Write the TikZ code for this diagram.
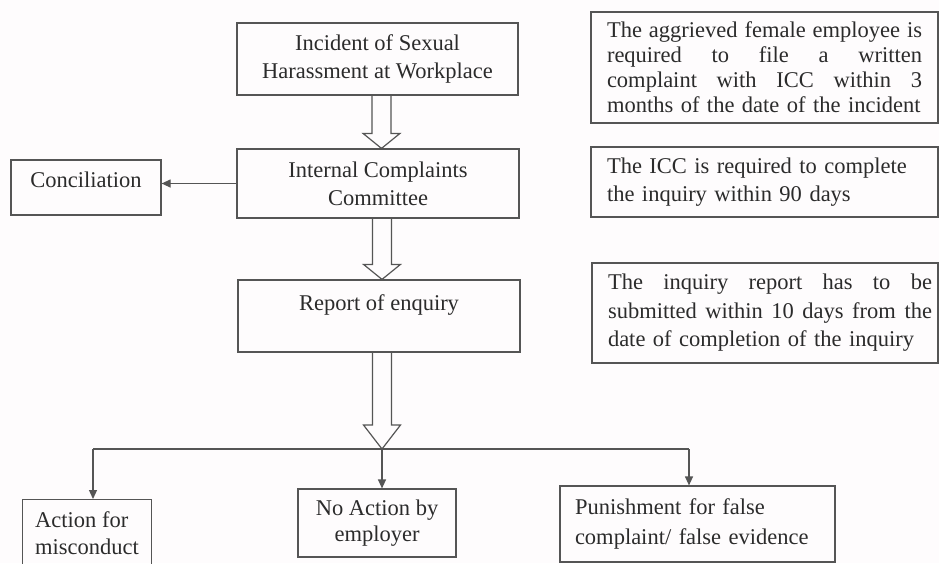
\documentclass[tikz,border=0pt]{standalone}
\usepackage{fontspec}
\setmainfont{Liberation Serif}
\usetikzlibrary{arrows.meta,calc}
\definecolor{ln}{HTML}{555555}
\definecolor{tx}{HTML}{2B2B2B}
\definecolor{bg}{HTML}{FEFCFD}
\hfuzz=20pt
\newcommand\jl[2]{\noindent\hbox to #1{\spaceskip=0.25em plus 1fil\relax #2}\\}
\newcommand\hollowdown[3]{%
  \draw[conn, line join=miter] ($(#2 |- #1)+(-9.5,0)$) -- ($(#2)+(-9.5,-#3)$) -- ($(#2)+(-18.5,-#3)$) -- (#2) -- ($(#2)+(18.5,-#3)$) -- ($(#2)+(9.5,-#3)$) -- ($(#2 |- #1)+(9.5,0)$);}
\begin{document}
\begin{tikzpicture}[x=1pt,y=-1pt,
  box/.style={draw=ln, line width=1.2pt, inner sep=0pt, text=tx, font=\fontsize{22.5}{28}\selectfont},
  conn/.style={draw=ln, line width=1.2pt},
  arrowhd/.style={-{Triangle[length=9pt,width=8pt]}, fill=ln}]
\useasboundingbox (0,0) rectangle (939,563);
\clip (0,0) rectangle (939,563);
\fill[bg] (0,0) rectangle (939,563);

% main column
\node[box, minimum width=281, minimum height=72, align=center] (inc) at (377.5,59) {Incident of Sexual\\Harassment at Workplace};
\node[box, minimum width=282, minimum height=69, align=center] (icc) at (378,183.5) {Internal Complaints\\Committee};
\node[box, minimum width=150, minimum height=55, text height=15pt, text depth=16pt] (conc) at (86,187.5) {Conciliation\hspace{6pt}};
\node[box, minimum width=282, minimum height=72, text height=15pt, text depth=27pt] (rep) at (379,316) {Report of enquiry};

% right notes
\node[box, minimum width=347, minimum height=111, text width=315, align=left, font=\fontsize{22.5}{25}\selectfont] (na) at (764.5,67.5)
  {\jl{315pt}{The aggrieved female employee is}\jl{315pt}{required to file a written}\jl{315pt}{complaint with ICC within 3}months of the date of the incident};
\node[box, minimum width=347, minimum height=70, text width=315, align=left] (nb) at (764.5,182)
  {The ICC is required to complete\\the inquiry within 90 days};
\node[box, minimum width=346, minimum height=100, text width=314, align=left, font=\fontsize{22.5}{28.5}\selectfont] (nc) at (765,313)
  {\jl{324pt}{The inquiry report has to be}\jl{324pt}{submitted within 10 days from the}date of completion of the inquiry};

% bottom outcomes
\node[box, minimum width=129, minimum height=80, anchor=north west] (act) at (22,499) {};
\node[text=tx, inner sep=0pt, align=left, anchor=west, font=\fontsize{22.5}{27}\selectfont] (acttxt) at (35,533) {Action for\\misconduct};
\node[box, minimum width=158, minimum height=68, align=center, font=\fontsize{22.5}{26}\selectfont] (noact) at (377,523) {No Action by\\employer};
\node[box, minimum width=275, minimum height=76, text width=245, align=left, font=\fontsize{22.5}{30}\selectfont] (pun) at (697.5,524) {Punishment for false\\complaint/ false evidence};

% coordinates
\coordinate (t1) at ($(icc.north)+(3.5,0)$);
\coordinate (t2) at ($(rep.north)+(3,0)$);
\coordinate (split) at (382,449);
\coordinate (lb) at (93,449);
\coordinate (rb) at (689,449);

% hollow arrows
\hollowdown{inc.south}{t1}{15}
\hollowdown{icc.south}{t2}{15}
\hollowdown{rep.south}{split}{24}

% connectors
\draw[conn, arrowhd] (icc.west) -- (conc.east |- icc.west);
\draw[conn] (lb) -- (rb);
\draw[conn, arrowhd] (lb) -- (lb |- act.north);
\draw[conn, arrowhd] (split) -- (split |- noact.north);
\draw[conn, arrowhd] (rb) -- (rb |- pun.north);
\end{tikzpicture}
\end{document}
